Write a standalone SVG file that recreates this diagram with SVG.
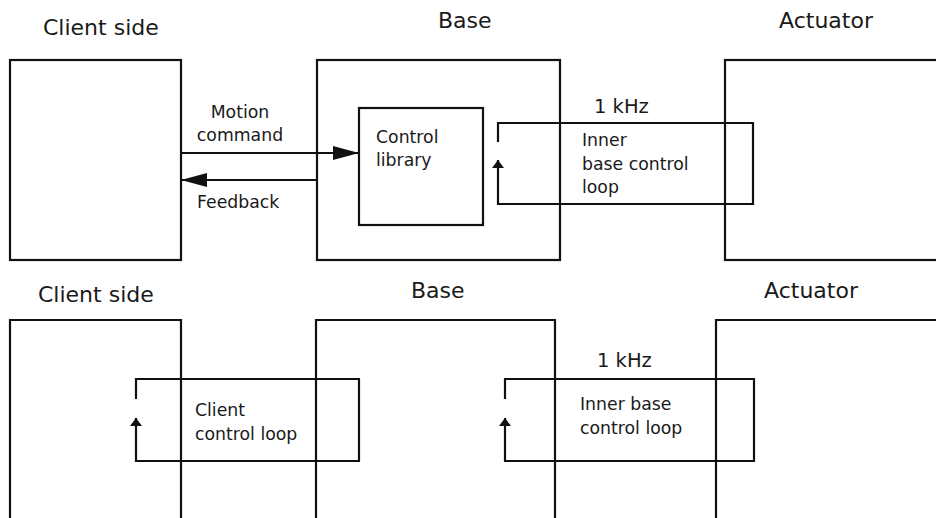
<svg xmlns="http://www.w3.org/2000/svg" width="936" height="518" viewBox="0 0 936 518">
<style>
.box{fill:none;stroke:#111;stroke-width:2.2;stroke-linejoin:miter}
.ln{fill:none;stroke:#111;stroke-width:2.2}
.t{font-family:"DejaVu Sans","Open Sans","Liberation Sans",sans-serif;fill:#1a1a1a}
.title{font-size:22px}
.lbl{font-size:17.3px}
.khz{font-size:19.5px}
</style>
<defs>
<marker id="big" viewBox="0 0 26 14" refX="26" refY="7" markerWidth="26" markerHeight="14" markerUnits="userSpaceOnUse" orient="auto">
<path d="M0,0 L26,7 L0,14 z" fill="#111"/>
</marker>
<marker id="small" viewBox="0 0 8 12" refX="8" refY="6" markerWidth="8" markerHeight="12" markerUnits="userSpaceOnUse" orient="auto">
<path d="M0,0 L8,6 L0,12 z" fill="#111"/>
</marker>
</defs>
<rect width="936" height="518" fill="#fff"/>

<!-- Top section -->
<g id="client-top">
<text class="t title" x="43" y="35">Client side</text>
<rect class="box" x="10" y="60" width="171" height="200"/>
</g>
<g id="base-top">
<text class="t title" x="438" y="28">Base</text>
<rect class="box" x="317" y="60" width="243" height="200"/>
</g>
<g id="actuator-top">
<text class="t title" x="779" y="28">Actuator</text>
<rect class="box" x="725" y="60" width="230" height="200"/>
</g>
<g id="control-library">
<rect class="box" x="359" y="108" width="124" height="117"/>
<text class="t lbl" x="376" y="143">Control</text>
<text class="t lbl" x="376" y="166">library</text>
</g>

<!-- Bottom section -->
<g id="client-bottom">
<text class="t title" x="38" y="302">Client side</text>
<path class="box" d="M10,520 V320 H181 V520"/>
</g>
<g id="base-bottom">
<text class="t title" x="411" y="298">Base</text>
<path class="box" d="M316,520 V320 H555 V520"/>
</g>
<g id="actuator-bottom">
<text class="t title" x="764" y="298">Actuator</text>
<path class="box" d="M716,520 V320 H940"/>
</g>

<g id="connectors">
<path class="ln" d="M181,153 H359" marker-end="url(#big)"/>
<text class="t lbl" x="240" y="118" text-anchor="middle">Motion</text>
<text class="t lbl" x="240" y="141" text-anchor="middle">command</text>
<path class="ln" d="M317,180 H181" marker-end="url(#big)"/>
<text class="t lbl" x="197" y="208">Feedback</text>

<path class="ln" d="M498,142 V123 H753 V204 H498 V160" marker-end="url(#small)"/>
<text class="t khz" x="594" y="113">1 kHz</text>
<text class="t lbl" x="582" y="146">Inner</text>
<text class="t lbl" x="582" y="170">base control</text>
<text class="t lbl" x="582" y="193">loop</text>

<path class="ln" d="M136,399 V379 H359 V461 H136 V418" marker-end="url(#small)"/>
<text class="t lbl" x="195" y="416">Client</text>
<text class="t lbl" x="195" y="440">control loop</text>

<path class="ln" d="M505,399 V379 H754 V461 H505 V418" marker-end="url(#small)"/>
<text class="t khz" x="597" y="367">1 kHz</text>
<text class="t lbl" x="580" y="410">Inner base</text>
<text class="t lbl" x="580" y="434">control loop</text>
</g>
</svg>
